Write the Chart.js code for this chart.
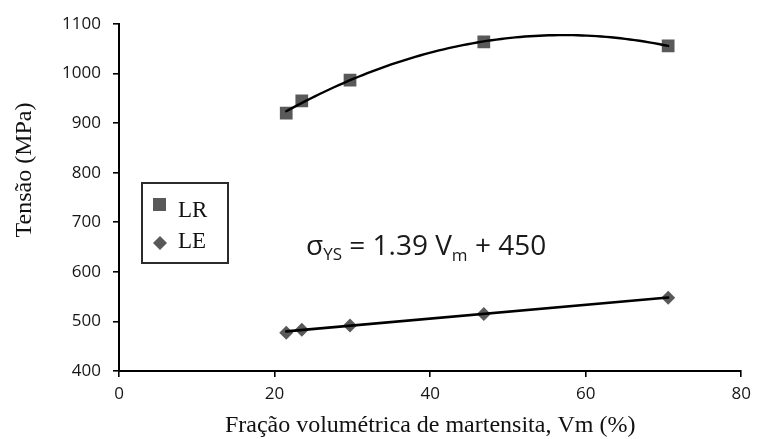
<!DOCTYPE html>
<html>
<head>
<meta charset="utf-8">
<script src="https://cdn.jsdelivr.net/npm/chart.js@4.4.1/dist/chart.umd.min.js"></script>
<style>
  html, body { margin: 0; padding: 0; background: #ffffff; }
  #wrap { width: 758px; height: 439px; }
</style>
</head>
<body>
<div id="wrap"><canvas id="c" width="758" height="439"></canvas></div>
<script>
// Martensite volume fraction (%) and measured strengths (MPa)
const martensite = [21.5, 23.5, 29.7, 46.9, 70.6];
const tensileLR = [920, 945, 987, 1064, 1056];
const yieldLE = [477, 483, 492, 515, 548];
const seriesNames = ['LR', 'LE'];
const xTickValues = [0, 20, 40, 60, 80];
const yTickValues = [400, 500, 600, 700, 800, 900, 1000, 1100];
// Linear yield-strength fit, as printed on the chart
const yieldSlope = 1.39;
const yieldIntercept = 450;

const MARK = '#595959';
const INK = '#000000';
const TICK_FONT = { family: "'Open Sans', sans-serif", size: 17 };

function toPoints(xs, ys) { return xs.map((x, i) => ({ x: x, y: ys[i] })); }

// Least-squares quadratic y = a + b x + c x^2
function quadFit(xs, ys) {
  const n = xs.length;
  let s = [0, 0, 0, 0, 0], t = [0, 0, 0];
  for (let i = 0; i < n; i++) {
    let p = 1;
    for (let k = 0; k < 5; k++) { s[k] += p; if (k < 3) t[k] += p * ys[i]; p *= xs[i]; }
  }
  const M = [[s[0], s[1], s[2], t[0]], [s[1], s[2], s[3], t[1]], [s[2], s[3], s[4], t[2]]];
  for (let c = 0; c < 3; c++) {
    let piv = c;
    for (let r = c + 1; r < 3; r++) if (Math.abs(M[r][c]) > Math.abs(M[piv][c])) piv = r;
    [M[c], M[piv]] = [M[piv], M[c]];
    for (let r = 0; r < 3; r++) {
      if (r === c) continue;
      const f = M[r][c] / M[c][c];
      for (let k = c; k < 4; k++) M[r][k] -= f * M[c][k];
    }
  }
  return [M[0][3] / M[0][0], M[1][3] / M[1][1], M[2][3] / M[2][2]];
}

const lrCoef = quadFit(martensite, tensileLR);

const overlay = {
  id: 'overlay',
  afterDatasetsDraw(chart) {
    const { ctx, scales: { x, y } } = chart;
    const x0 = Math.min(...martensite), x1 = Math.max(...martensite);

    ctx.save();
    ctx.strokeStyle = INK;
    ctx.lineJoin = 'round';
    ctx.lineCap = 'round';

    // Polynomial trend for LR
    ctx.lineWidth = 2.4;
    ctx.beginPath();
    const steps = 80;
    for (let i = 0; i <= steps; i++) {
      const v = x0 + (x1 - x0) * i / steps;
      const w = lrCoef[0] + lrCoef[1] * v + lrCoef[2] * v * v;
      const px = x.getPixelForValue(v), py = y.getPixelForValue(w);
      if (i === 0) ctx.moveTo(px, py); else ctx.lineTo(px, py);
    }
    ctx.stroke();

    // Linear trend for LE
    ctx.lineWidth = 2.6;
    ctx.beginPath();
    ctx.moveTo(x.getPixelForValue(x0), y.getPixelForValue(yieldSlope * x0 + yieldIntercept));
    ctx.lineTo(x.getPixelForValue(x1), y.getPixelForValue(yieldSlope * x1 + yieldIntercept));
    ctx.stroke();
    ctx.restore();
  },
  afterDraw(chart) {
    const { ctx, chartArea: ca } = chart;
    ctx.save();

    // Axis titles
    ctx.fillStyle = '#111111';
    ctx.textAlign = 'center';
    ctx.textBaseline = 'alphabetic';
    ctx.font = "24px 'Liberation Serif', serif";
    ctx.fillText('Fração volumétrica de martensita, Vm (%)', (ca.left + ca.right) / 2, 432);

    ctx.save();
    ctx.font = "24px 'Liberation Serif', serif";
    ctx.translate(31, 170);
    ctx.rotate(-Math.PI / 2);
    ctx.fillText('Tensão (MPa)', 0, 0);
    ctx.restore();

    // Legend box
    const lx = ca.left + 23, ly = ca.top + 159, lw = 86, lh = 80;
    ctx.strokeStyle = '#2b2b2b';
    ctx.lineWidth = 2;
    ctx.strokeRect(lx, ly, lw, lh);

    ctx.fillStyle = MARK;
    ctx.fillRect(lx + 11, ly + 15, 13, 13);
    ctx.beginPath();
    const dx = lx + 18, dy = ly + 60;
    ctx.moveTo(dx, dy - 7); ctx.lineTo(dx + 7, dy); ctx.lineTo(dx, dy + 7); ctx.lineTo(dx - 7, dy);
    ctx.closePath();
    ctx.fill();

    ctx.fillStyle = '#111111';
    ctx.font = "23px 'Liberation Serif', serif";
    ctx.textAlign = 'left';
    ctx.fillText(seriesNames[0], lx + 36, ly + 34);
    ctx.fillText(seriesNames[1], lx + 36, ly + 65);

    // Yield-strength equation
    let ex = ca.left + 187;
    const eb = ca.top + 231;
    const big = "28px 'Open Sans', sans-serif";
    const small = "17px 'Open Sans', sans-serif";
    const part = (txt, font, dy) => {
      ctx.font = font;
      ctx.fillText(txt, ex, eb + dy);
      ex += ctx.measureText(txt).width;
    };
    ctx.fillStyle = '#1a1a1a';
    part('σ', big, 0);
    part('YS', small, 5);
    part(' = ' + yieldSlope.toFixed(2) + ' V', big, 0);
    part('m', small, 6);
    part(' + ' + yieldIntercept, big, 0);

    ctx.restore();
  }
};

new Chart(document.getElementById('c'), {
  type: 'scatter',
  data: {
    datasets: [
      {
        label: seriesNames[0],
        data: toPoints(martensite, tensileLR),
        pointStyle: 'rect',
        pointRadius: 9,
        pointHoverRadius: 9,
        backgroundColor: MARK,
        borderColor: MARK,
        borderWidth: 0,
        showLine: false
      },
      {
        label: seriesNames[1],
        data: toPoints(martensite, yieldLE),
        pointStyle: 'rectRot',
        pointRadius: 7,
        pointHoverRadius: 7,
        backgroundColor: MARK,
        borderColor: MARK,
        borderWidth: 0,
        showLine: false
      }
    ]
  },
  options: {
    responsive: false,
    animation: false,
    events: [],
    layout: { padding: { left: 0, right: 15, top: 24, bottom: 0 } },
    plugins: {
      legend: { display: false },
      tooltip: { enabled: false },
      title: { display: false }
    },
    scales: {
      x: {
        type: 'linear',
        min: xTickValues[0],
        max: xTickValues[xTickValues.length - 1],
        afterBuildTicks: (s) => { s.ticks = xTickValues.map(v => ({ value: v })); },
        afterFit: (s) => { s.height = 68; },
        ticks: { font: TICK_FONT, color: '#161616', padding: 7, callback: (v) => String(v) },
        grid: { drawOnChartArea: false, drawTicks: true, tickLength: 6, color: INK, lineWidth: 1.6 },
        border: { display: true, color: INK, width: 2 }
      },
      y: {
        type: 'linear',
        min: yTickValues[0],
        max: yTickValues[yTickValues.length - 1],
        afterBuildTicks: (s) => { s.ticks = yTickValues.map(v => ({ value: v })); },
        afterFit: (s) => { s.width = 119; },
        ticks: { font: TICK_FONT, color: '#161616', padding: 12, callback: (v) => String(v) },
        grid: { drawOnChartArea: false, drawTicks: true, tickLength: 6, color: INK, lineWidth: 1.6 },
        border: { display: true, color: INK, width: 2 }
      }
    }
  },
  plugins: [overlay]
});
</script>
</body>
</html>
